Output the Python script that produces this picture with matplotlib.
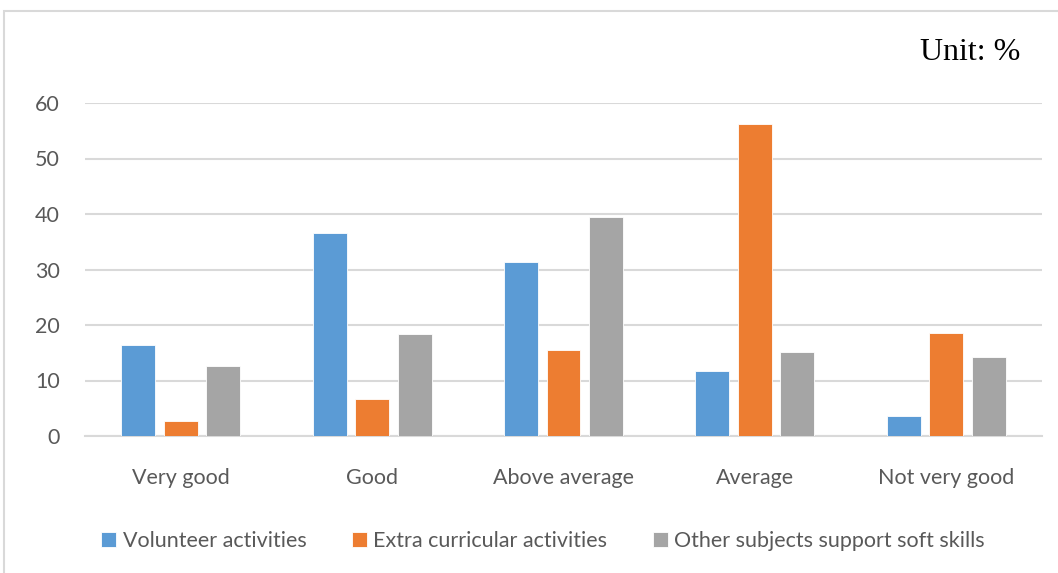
import numpy as np
import matplotlib
matplotlib.use("Agg")
import matplotlib.pyplot as plt
from matplotlib.patches import Rectangle

# data
categories = ["Very good", "Good", "Above average", "Average", "Not very good"]
volunteer = [16.4, 36.6, 31.3, 11.7, 3.6]
extra_curricular = [2.7, 6.6, 15.5, 56.3, 18.5]
other_subjects = [12.6, 18.4, 39.4, 15.1, 14.2]
series_names = ["Volunteer activities", "Extra curricular activities",
                "Other subjects support soft skills"]
colors = ["#5B9BD5", "#ED7D31", "#A5A5A5"]

plt.rcParams['font.family'] = ['Lato', 'DejaVu Sans']

fig = plt.figure(figsize=(10.58, 5.73), dpi=100)
ax = fig.add_axes([85 / 1058, 1 - 436 / 573, (1042 - 85) / 1058, (436 - 103) / 573])

x = np.arange(len(categories))
width = 0.177
offset = 0.222
for i, (vals, name, col) in enumerate(zip([volunteer, extra_curricular, other_subjects],
                                          series_names, colors)):
    ax.bar(x + (i - 1) * offset, vals, width, color=col, label=name,
           edgecolor="white", linewidth=0.6, zorder=3)

ax.set_xlim(-0.5, len(categories) - 0.5)
ax.set_ylim(0, 60)
ax.set_yticks(range(0, 61, 10))
ax.set_xticks(x)
ax.set_xticklabels(categories)
ax.yaxis.grid(True, color="#d9d9d9", linewidth=1.5, zorder=0)
ax.set_axisbelow(True)
for s in ["top", "right", "left"]:
    ax.spines[s].set_visible(False)
ax.spines["bottom"].set_color("#d9d9d9")
ax.spines["bottom"].set_linewidth(1.5)
ax.tick_params(axis="both", length=0, colors="#595959", labelsize=15.5)
ax.tick_params(axis="x", pad=23)
ax.tick_params(axis="y", pad=18)

fig.text(1020 / 1058, 1 - 52 / 573, "Unit: %", ha="right", va="center",
         fontsize=23, family="Liberation Serif", color="black")

leg = fig.legend(loc="center", bbox_to_anchor=(543 / 1058, 1 - 541 / 573), ncol=3,
                 frameon=False, fontsize=15.5, handlelength=0.7, handleheight=0.7,
                 handletextpad=0.3, columnspacing=2.1)
for t in leg.get_texts():
    t.set_color("#595959")

# light border around the chart area
fig.patches.append(Rectangle((4 / 1058, -0.05), 1.1, 1 - 11 / 573 + 0.05,
                             transform=fig.transFigure, fill=False,
                             edgecolor="#d9d9d9", linewidth=1.5))

fig.savefig("out.png", dpi=100)
